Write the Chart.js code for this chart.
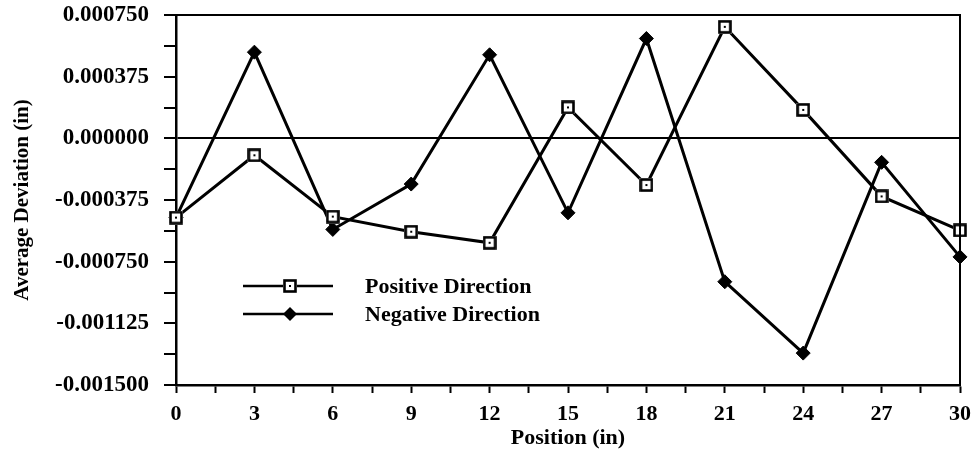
<!DOCTYPE html>
<html>
<head>
<meta charset="utf-8">
<script src="https://cdn.jsdelivr.net/npm/chart.js@4.4.1/dist/chart.umd.min.js"></script>
<style>
  html, body { margin: 0; padding: 0; background: #fff; }
  #wrap { width: 980px; height: 464px; }
</style>
</head>
<body>
<div id="wrap"><canvas id="c" width="980" height="464"></canvas></div>
<script>
// Measurement positions along the part (in)
const positions = [0, 3, 6, 9, 12, 15, 18, 21, 24, 27, 30];

// Average deviation (in) measured in each travel direction
const positiveDirection = [-0.000482, -0.000103, -0.000476, -0.000568, -0.000635, 0.000188, -0.000284, 0.000678, 0.000173, -0.000353, -0.000560];
const negativeDirection = [-0.000482, 0.000524, -0.000554, -0.000278, 0.000508, -0.000453, 0.000607, -0.000872, -0.001306, -0.000146, -0.000721];

const seriesNames = ['Positive Direction', 'Negative Direction'];

// Labelled ticks (unlabelled minor ticks sit halfway between them)
const yTickLabels = ['0.000750', '0.000375', '0.000000', '-0.000375', '-0.000750', '-0.001125', '-0.001500'];
const xTickLabels = ['0', '3', '6', '9', '12', '15', '18', '21', '24', '27', '30'];

const SERIF = '"Liberation Serif", "Times New Roman", serif';

// Open square marker with a small centre dot
function makeSquareMarker() {
  const s = 14;
  const cv = document.createElement('canvas');
  cv.width = s; cv.height = s;
  const g = cv.getContext('2d');
  g.fillStyle = '#fff';
  g.fillRect(0, 0, s, s);
  g.strokeStyle = '#000';
  g.lineWidth = 2.6;
  g.strokeRect(1.5, 1.5, s - 3, s - 3);
  g.fillStyle = '#000';
  g.fillRect(6, 6, 2, 2);
  return cv;
}
const squareMarker = makeSquareMarker();

function toPoints(values) {
  return positions.map((p, i) => ({ x: p, y: values[i] }));
}

// Top and right edges of the plot frame
const framePlugin = {
  id: 'frame',
  afterDraw(chart) {
    const { ctx, chartArea: a } = chart;
    ctx.save();
    ctx.strokeStyle = '#000';
    ctx.lineWidth = 2;
    ctx.beginPath();
    ctx.moveTo(a.left, a.top);
    ctx.lineTo(a.right, a.top);
    ctx.lineTo(a.right, a.bottom);
    ctx.stroke();
    ctx.restore();
  }
};

// Legend drawn inside the plot, lower left
const legendPlugin = {
  id: 'insideLegend',
  afterDraw(chart) {
    const { ctx } = chart;
    const rows = [
      { y: 286, marker: 'square', text: seriesNames[0] },
      { y: 314, marker: 'diamond', text: seriesNames[1] }
    ];
    ctx.save();
    rows.forEach(r => {
      ctx.strokeStyle = '#000';
      ctx.lineWidth = 2.5;
      ctx.beginPath();
      ctx.moveTo(243, r.y);
      ctx.lineTo(333, r.y);
      ctx.stroke();
      if (r.marker === 'square') {
        ctx.drawImage(squareMarker, 290 - 7, r.y - 7);
      } else {
        ctx.fillStyle = '#000';
        ctx.beginPath();
        ctx.moveTo(290, r.y - 7);
        ctx.lineTo(297, r.y);
        ctx.lineTo(290, r.y + 7);
        ctx.lineTo(283, r.y);
        ctx.closePath();
        ctx.fill();
      }
      ctx.fillStyle = '#000';
      ctx.font = 'bold 22px ' + SERIF;
      ctx.textAlign = 'left';
      ctx.textBaseline = 'middle';
      ctx.fillText(r.text, 365, r.y + 1);
    });
    ctx.restore();
  }
};

const yLabelValues = yTickLabels.map(Number);

new Chart(document.getElementById('c'), {
  type: 'line',
  data: {
    datasets: [
      {
        label: seriesNames[0],
        data: toPoints(positiveDirection),
        borderColor: '#000',
        borderWidth: 3,
        pointStyle: squareMarker,
        pointRadius: 7,
        tension: 0,
        clip: false
      },
      {
        label: seriesNames[1],
        data: toPoints(negativeDirection),
        borderColor: '#000',
        backgroundColor: '#000',
        borderWidth: 3,
        pointStyle: 'rectRot',
        pointRadius: 7,
        pointBorderWidth: 1,
        tension: 0,
        clip: false
      }
    ]
  },
  options: {
    responsive: false,
    animation: false,
    devicePixelRatio: 1,
    layout: { padding: { top: 15, right: 20, left: 0, bottom: 0 } },
    plugins: {
      legend: { display: false },
      tooltip: { enabled: false }
    },
    scales: {
      x: {
        type: 'linear',
        min: 0,
        max: 30,
        afterFit(scale) {
          scale.height = 79;
          scale.paddingLeft = 0;
          scale.paddingRight = 0;
        },
        border: { display: true, color: '#000', width: 2.5 },
        grid: {
          drawOnChartArea: false,
          drawTicks: true,
          tickLength: 8,
          tickColor: '#000',
          tickWidth: 2
        },
        ticks: {
          stepSize: 1.5,
          autoSkip: false,
          maxRotation: 0,
          padding: 8,
          color: '#000',
          font: { family: SERIF, size: 22, weight: 'bold' },
          callback(value) {
            const lbl = xTickLabels.find(t => Math.abs(Number(t) - value) < 1e-9);
            return lbl === undefined ? '' : lbl;
          }
        },
        title: {
          display: true,
          text: 'Position (in)',
          color: '#000',
          font: { family: SERIF, size: 22, weight: 'bold' },
          padding: { top: 0, bottom: 12 }
        }
      },
      y: {
        type: 'linear',
        min: -0.0015,
        max: 0.00075,
        afterFit(scale) {
          scale.width = 176;
          scale.paddingTop = 0;
          scale.paddingBottom = 0;
        },
        border: { display: true, color: '#000', width: 2.5 },
        grid: {
          drawOnChartArea: true,
          drawTicks: true,
          tickLength: 12,
          tickColor: '#000',
          tickWidth: 2,
          color: ctx => (ctx.tick && Math.abs(ctx.tick.value) < 1e-12 ? '#000' : 'rgba(0,0,0,0)'),
          lineWidth: ctx => (ctx.tick && Math.abs(ctx.tick.value) < 1e-12 ? 2 : 0)
        },
        ticks: {
          stepSize: 0.0001875,
          autoSkip: false,
          padding: 15,
          color: '#000',
          font: { family: SERIF, size: 23, weight: 'bold' },
          callback(value) {
            const i = yLabelValues.findIndex(v => Math.abs(v - value) < 1e-9);
            return i < 0 ? '' : yTickLabels[i];
          }
        },
        title: {
          display: true,
          text: 'Average Deviation (in)',
          color: '#000',
          font: { family: SERIF, size: 21, weight: 'bold' },
          padding: { top: 10, bottom: 0 }
        }
      }
    }
  },
  plugins: [framePlugin, legendPlugin]
});
</script>
</body>
</html>
